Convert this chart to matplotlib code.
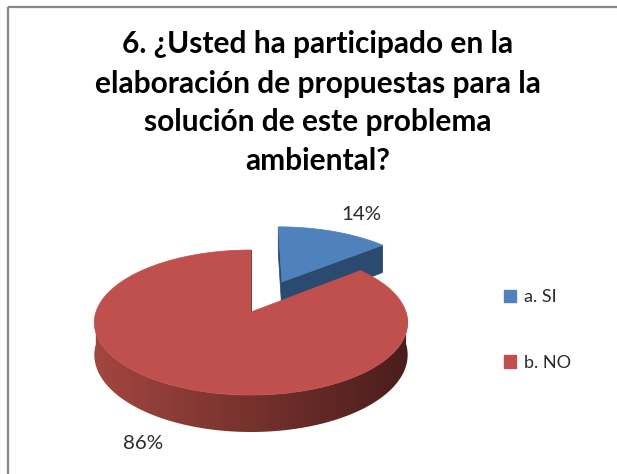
import numpy as np
import matplotlib
matplotlib.use("Agg")
import matplotlib.pyplot as plt
from matplotlib.patches import Polygon, Patch
from matplotlib.colors import to_rgb, LinearSegmentedColormap

# ---------------- data ----------------
categories = ["a. SI", "b. NO"]
values = [14, 86]
title_lines = ["6. ¿Usted ha participado en la",
               "elaboración de propuestas para la",
               "solución de este problema",
               "ambiental?"]

# ---------------- style ----------------
FONT = ["Lato", "DejaVu Sans"]
top_colors = ["#4F81BD", "#C0504D"]
side_left = ["#3A6599", "#A3463F"]
side_right = ["#22405F", "#4A1D1C"]
cut_colors = ["#2B4A70", "#7A2F2D"]
explode = [0.5, 0.0]
LABEL_OFFSETS = [(28, -17), (-32, 21)]

W, Hpx = 617, 474
CX, CY, A, B, P, HT = 251.0, 312.0, 155.0, 71.0, 0.145, 31.6

fig = plt.figure(figsize=(W / 100, Hpx / 100), dpi=100)
ax = fig.add_axes([0, 0, 1, 1])
ax.set_xlim(0, W)
ax.set_ylim(Hpx, 0)
ax.axis("off")

# outer frame (top and left edges visible)
ax.plot([8, W + 5], [7, 7], color="#878787", lw=1.6, solid_capstyle="butt")
ax.plot([8, 8], [7, Hpx + 5], color="#878787", lw=1.6, solid_capstyle="butt")


def proj(u, v, z=0.0):
    u = np.asarray(u, float)
    v = np.asarray(v, float)
    f = 1.0 / (1.0 + P * v)
    return CX + A * u * f, CY - B * v * f + HT * z * f


total = float(sum(values))
bounds = np.concatenate([[0], np.cumsum(values)]) / total * 2 * np.pi

label_anchor = []
for i, val in enumerate(values):
    t1, t2 = bounds[i], bounds[i + 1]
    bis = 0.5 * (t1 + t2)
    e = explode[i]
    ou, ov = e * np.sin(bis), e * np.cos(bis)
    ts = np.linspace(t1, t2, 600)
    ru, rv = np.sin(ts) + ou, np.cos(ts) + ov

    # cut faces (only those facing the viewer)
    for t, sign in ((t1, -1), (t2, 1)):
        nu, nv = sign * np.cos(t), -sign * np.sin(t)
        if nv < 0.05:
            cu, cv = np.array([ou, np.sin(t) + ou]), np.array([ov, np.cos(t) + ov])
            x0, y0 = proj(cu, cv, 0)
            x1, y1 = proj(cu, cv, 1)
            quad = [(x0[0], y0[0]), (x0[1], y0[1]), (x1[1], y1[1]), (x1[0], y1[0])]
            ax.add_patch(Polygon(quad, closed=True, fc=cut_colors[i], ec=cut_colors[i], lw=0.5))

    # outer rim side (front-facing part), gradient shaded
    front = np.cos(ts) < 0
    if front.any():
        fu, fv = ru[front], rv[front]
        xt, yt = proj(fu, fv, 0)
        xb, yb = proj(fu, fv, 1)
        pts = list(zip(xt, yt)) + list(zip(xb[::-1], yb[::-1]))
        side = Polygon(pts, closed=True, fc="none", ec="none")
        ax.add_patch(side)
        cmap = LinearSegmentedColormap.from_list("s", [side_left[i], side_right[i]])
        grad = np.linspace(0, 1, 256).reshape(1, -1)
        im = ax.imshow(grad, cmap=cmap, extent=(CX - A - 2, CX + A + 2, max(yb) + 2, min(yt) - 2),
                       aspect="auto", interpolation="bilinear", zorder=1)
        im.set_clip_path(side)
        edge_pts = list(zip(xb[::-1], yb[::-1]))

    # top face
    xt, yt = proj(ru, rv, 0)
    cxp, cyp = proj([ou], [ov], 0)
    pts = [(cxp[0], cyp[0])] + list(zip(xt, yt))
    ax.add_patch(Polygon(pts, closed=True, fc=top_colors[i], ec=top_colors[i], lw=0.5, zorder=2))

    # label anchor on rim at bisector
    bu, bv = np.sin(bis) + ou, np.cos(bis) + ov
    z = 1 if np.cos(bis) < 0 else 0
    lx, ly = proj([bu], [bv], z)
    label_anchor.append((lx[0], ly[0]))

renderer = fig.canvas.get_renderer()


def fit(txt, target, size):
    txt.set_fontsize(size)
    w = txt.get_window_extent(renderer).width
    txt.set_fontsize(size * target / w)


# percentage labels
for i, val in enumerate(values):
    lx, ly = label_anchor[i]
    dx, dy = LABEL_OFFSETS[i]
    t = ax.text(lx + dx, ly + dy, f"{val}%", ha="center", va="center",
                family=FONT, color="#2a2a2a")
    fit(t, 40, 15)

# title
baselines = [53, 93, 131, 170]
tts = []
for line, yb in zip(title_lines, baselines):
    tts.append(ax.text(318, yb, line, ha="center", va="baseline",
                       family=FONT, fontweight="bold", color="black", fontsize=20))
w = tts[1].get_window_extent(renderer).width
fs = 20 * 445 / w
for t in tts:
    t.set_fontsize(fs)

# legend
handles = [Patch(facecolor=c, edgecolor=c) for c in top_colors]
leg = ax.legend(handles, categories, loc="center left", bbox_to_anchor=(504, 330),
                bbox_transform=ax.transData, frameon=False,
                handlelength=0.68, handleheight=0.68, handletextpad=0.45,
                labelspacing=2.75, borderpad=0, borderaxespad=0,
                prop={"family": FONT, "size": 13})
for t in leg.get_texts():
    t.set_color("#2a2a2a")

fig.savefig("out.png", dpi=100)
